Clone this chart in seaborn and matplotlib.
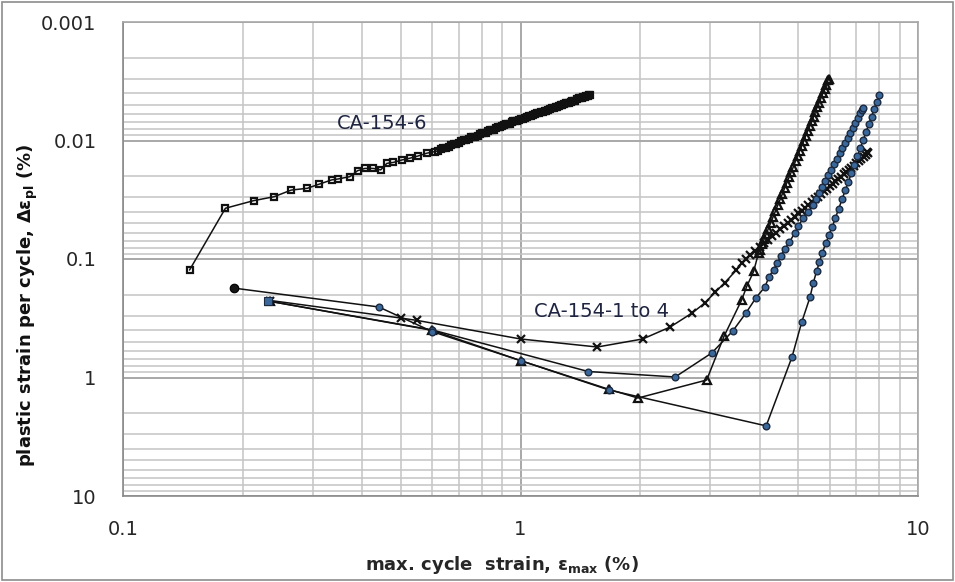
import matplotlib
matplotlib.use("Agg")
import matplotlib.pyplot as plt
from matplotlib.patches import Rectangle
from matplotlib.ticker import LogLocator, FixedLocator, FixedFormatter, NullFormatter
import numpy as np
import pandas as pd
import seaborn as sns

# ---------------- data ----------------
ca6_x = [0.147, 0.181, 0.213, 0.240, 0.265, 0.291, 0.311, 0.335, 0.348, 0.372,
         0.389, 0.406, 0.426, 0.445, 0.461, 0.479, 0.503, 0.527, 0.553, 0.581,
         0.609, 0.62, 0.63, 0.64, 0.65, 0.66, 0.67, 0.68, 0.69, 0.70, 0.71, 0.72, 0.73,
         0.74, 0.75, 0.76, 0.77, 0.78, 0.79, 0.80,
         0.81, 0.82, 0.83, 0.84, 0.85, 0.86, 0.87, 0.88, 0.89, 0.90, 0.91, 0.92, 0.93,
         0.94, 0.95, 0.96, 0.97, 0.98, 0.99, 1.00, 1.0125, 1.025, 1.0375,
         1.05, 1.0625, 1.075, 1.0875, 1.10, 1.1125, 1.125, 1.1375, 1.15, 1.1625, 1.175,
         1.1875, 1.20, 1.2125, 1.225, 1.2375, 1.25, 1.2625, 1.275, 1.2875,
         1.30, 1.3125, 1.325, 1.3375, 1.35, 1.3625, 1.375, 1.3875, 1.40, 1.4125,
         1.425, 1.4375, 1.45, 1.4625, 1.475, 1.485, 1.496]
ca6_y = [0.124, 0.0373, 0.0322, 0.0298, 0.0262, 0.0253, 0.0234, 0.0215, 0.0211, 0.0202,
         0.0180, 0.0172, 0.0172, 0.0177, 0.0156, 0.0153, 0.0146, 0.0141, 0.0135, 0.0128,
         0.0124, 0.0122, 0.0118, 0.0116, 0.0115, 0.0113, 0.0109, 0.0107, 0.0107, 0.0105, 0.0101, 0.0099, 0.0099,
         0.0098, 0.0094, 0.0093, 0.0093, 0.0092, 0.0088, 0.0087,
         0.0087, 0.0086, 0.0083, 0.0082, 0.0082, 0.0081, 0.0078, 0.0077, 0.0077, 0.0076, 0.0074, 0.0073, 0.0073,
         0.0072, 0.0070, 0.0069, 0.0069, 0.0068, 0.0067, 0.0066, 0.0066, 0.0065, 0.0063,
         0.0062, 0.0062, 0.0061, 0.0060, 0.0059, 0.0059, 0.0058, 0.0057, 0.0056, 0.0056, 0.0055,
         0.0054, 0.0053, 0.0053, 0.0052, 0.0052, 0.0051, 0.0050, 0.0050, 0.0049,
         0.0048, 0.0048, 0.0048, 0.0047, 0.0046, 0.0046, 0.0046, 0.0045, 0.0044, 0.0044,
         0.0044, 0.0043, 0.0043, 0.0042, 0.0042, 0.0041, 0.0041]

# CA-154 test 1 (cross markers)
s1_x = [0.235, 0.50, 0.55, 1.00, 1.56, 2.03, 2.38, 2.70, 2.91, 3.09, 3.27, 3.49, 3.60,
        3.70, 3.78, 3.90, 4.00, 4.10, 4.20, 4.30, 4.40, 4.50, 4.60, 4.70, 4.80, 4.90,
        5.00, 5.10, 5.20, 5.30, 5.40, 5.50, 5.60, 5.70, 5.80, 5.90, 6.00, 6.10, 6.20,
        6.30, 6.40, 6.50, 6.60, 6.70, 6.80, 6.90, 7.00, 7.10, 7.20, 7.30, 7.40, 7.48, 7.45]
s1_y = [0.224, 0.315, 0.33, 0.473, 0.553, 0.473, 0.375, 0.286, 0.235, 0.190, 0.158, 0.124, 0.108,
        0.100, 0.092, 0.086, 0.079, 0.0735, 0.0686, 0.064, 0.0599, 0.0561, 0.0526, 0.0495, 0.0466, 0.0438,
        0.0413, 0.039, 0.0369, 0.0349, 0.0331, 0.0313, 0.0298, 0.0283, 0.0269, 0.0256, 0.0243, 0.0232, 0.0221,
        0.0212, 0.0202, 0.0193, 0.0185, 0.0177, 0.0169, 0.0163, 0.0156, 0.0149, 0.0144, 0.0138, 0.0133, 0.0128, 0.0124]

# CA-154 test 2 (triangle markers)
s2_x = [0.235, 0.60, 1.00, 1.67, 1.975, 2.94, 3.25, 3.60, 3.71, 3.86, 3.97, 4.00, 4.05, 4.10,
        4.15, 4.20, 4.26, 4.32, 4.38, 4.44, 4.50, 4.56, 4.62, 4.68, 4.74, 4.80, 4.86, 4.92,
        4.98, 5.04, 5.10, 5.16, 5.22, 5.28, 5.34, 5.40, 5.46, 5.52, 5.58, 5.64, 5.70, 5.76,
        5.82, 5.88, 5.94, 5.97]
s2_y = [0.228, 0.40, 0.72, 1.26, 1.49, 1.05, 0.45, 0.222, 0.170, 0.127, 0.089, 0.0836, 0.0753, 0.0681,
        0.0617, 0.0558, 0.0495, 0.0441, 0.0393, 0.0351, 0.0314, 0.0281, 0.0252, 0.0227, 0.0204, 0.0184, 0.0166, 0.0149,
        0.0135, 0.0122, 0.0111, 0.0101, 0.0091, 0.0083, 0.0076, 0.0069, 0.0063, 0.0057, 0.0052, 0.0048, 0.0044, 0.0040,
        0.0037, 0.0034, 0.0031, 0.0030]

# CA-154 test 3 (blue circles, square start)
s3_x = [0.2316, 0.60, 1.48, 2.45, 3.03, 3.42, 3.69, 3.91, 4.12, 4.22, 4.33, 4.43, 4.52, 4.62,
        4.75, 4.90, 5.00, 5.14, 5.29, 5.45, 5.55, 5.65, 5.75, 5.85, 5.95, 6.05, 6.15, 6.25,
        6.35, 6.45, 6.55, 6.65, 6.75, 6.85, 6.95, 7.05, 7.15, 7.22, 7.27]
s3_y = [0.226, 0.397, 0.89, 0.99, 0.62, 0.405, 0.286, 0.213, 0.172, 0.141, 0.123, 0.108, 0.094, 0.082,
        0.072, 0.060, 0.053, 0.045, 0.040, 0.035, 0.0311, 0.0276, 0.0246, 0.0220, 0.0197, 0.0176, 0.0158, 0.0142,
        0.0128, 0.0116, 0.0105, 0.0095, 0.0086, 0.0078, 0.0071, 0.0065, 0.0059, 0.0055, 0.0053]

# CA-154 test 4 (blue circles, dark start)
s4_x = [0.19, 0.44, 0.60, 1.00, 1.67, 4.15, 4.82, 5.10, 5.35, 5.45, 5.56, 5.65, 5.74, 5.87,
        5.97, 6.08, 6.20, 6.32, 6.44, 6.56, 6.68, 6.80, 6.92, 7.04, 7.16, 7.28, 7.40, 7.52,
        7.64, 7.76, 7.88, 8.00]
s4_y = [0.176, 0.254, 0.41, 0.72, 1.275, 2.56, 0.671, 0.34, 0.21, 0.16, 0.126, 0.106, 0.089, 0.073,
        0.063, 0.054, 0.0449, 0.0375, 0.0314, 0.0264, 0.0223, 0.0189, 0.0160, 0.0136, 0.0116, 0.0099, 0.0085, 0.0073,
        0.0063, 0.0054, 0.0047, 0.0041]

x_ticks = [0.1, 1, 10]
x_ticklabels = ["0.1", "1", "10"]
y_ticks = [0.001, 0.01, 0.1, 1, 10]
y_ticklabels = ["0.001", "0.01", "0.1", "1", "10"]

label_ca6 = "CA-154-6"
label_ca14 = "CA-154-1 to 4"

# ---------------- styling ----------------
sns.set_style("white")
plt.rcParams["font.family"] = ["DejaVu Sans"]
plt.rcParams["mathtext.default"] = "regular"

fig = plt.figure(figsize=(9.55, 5.82), dpi=100)
ax = fig.add_axes([123 / 955, 1 - 496 / 582, (918 - 123) / 955, (496 - 22) / 582])

ax.set_xscale("log")
ax.set_yscale("log")

frames = []
for name, xs, ys in [("ca6", ca6_x, ca6_y), ("s1", s1_x, s1_y), ("s2", s2_x, s2_y),
                     ("s3", s3_x, s3_y), ("s4", s4_x, s4_y)]:
    frames.append(pd.DataFrame({"series": name, "x": xs, "y": ys}))
df = pd.concat(frames, ignore_index=True)

line_kw = dict(color="#111111", lw=1.1, sort=False, estimator=None, ax=ax, legend=False)
blue_face = "#3b689a"
blue_edge = "#1b2a40"

sns.lineplot(data=df[df.series == "ca6"], x="x", y="y", marker="s", markersize=5,
             mfc="none", mec="#111111", mew=1.6, **line_kw)
sns.lineplot(data=df[df.series == "s1"], x="x", y="y", marker="x", markersize=5.5,
             mec="#111111", mew=1.6, **line_kw)
sns.lineplot(data=df[df.series == "s2"], x="x", y="y", marker="^", markersize=5.5,
             mfc="none", mec="#111111", mew=1.6, **line_kw)
sns.lineplot(data=df[df.series == "s3"], x="x", y="y", marker="o", markersize=4.8,
             mfc=blue_face, mec=blue_edge, mew=1.0, **line_kw)
sns.lineplot(data=df[df.series == "s4"], x="x", y="y", marker="o", markersize=4.8,
             mfc=blue_face, mec=blue_edge, mew=1.0, **line_kw)

# start markers
sns.scatterplot(x=[s3_x[0]], y=[s3_y[0]], marker="s", s=30, color=blue_face,
                edgecolor=blue_edge, linewidth=0.8, ax=ax, legend=False, zorder=5)
sns.scatterplot(x=[s4_x[0]], y=[s4_y[0]], marker="o", s=38, color="#151515",
                edgecolor="#000000", linewidth=0.8, ax=ax, legend=False, zorder=5)

ax.set_xlim(0.1, 10)
ax.set_ylim(10, 0.001)

ax.xaxis.set_major_locator(FixedLocator(x_ticks))
ax.xaxis.set_major_formatter(FixedFormatter(x_ticklabels))
ax.yaxis.set_major_locator(FixedLocator(y_ticks))
ax.yaxis.set_major_formatter(FixedFormatter(y_ticklabels))
ax.xaxis.set_minor_locator(LogLocator(base=10, subs=np.arange(2, 10), numticks=20))
ax.yaxis.set_minor_locator(LogLocator(base=10, subs=np.arange(2, 10), numticks=20))
ax.xaxis.set_minor_formatter(NullFormatter())
ax.yaxis.set_minor_formatter(NullFormatter())

ax.grid(True, which="major", color="#a8a8a8", lw=1.4)
ax.grid(True, which="minor", color="#c4c4c4", lw=1.1)
ax.set_axisbelow(True)

ax.tick_params(axis="both", which="major", direction="out", length=7, width=1.0,
               color="#808080", labelsize=14, labelcolor="#262626")
ax.tick_params(axis="both", which="minor", length=0)
ax.tick_params(axis="x", which="major", pad=10)
ax.tick_params(axis="y", which="major", pad=12)

for side in ["left", "bottom"]:
    ax.spines[side].set_color("#8a8a8a")
    ax.spines[side].set_linewidth(1.2)
for side in ["top", "right"]:
    ax.spines[side].set_color("#a8a8a8")
    ax.spines[side].set_linewidth(1.2)

ax.set_xlabel("max. cycle  strain, ε$_{max}$ (%)", fontsize=13, fontweight="bold",
              color="#262626")
ax.set_ylabel("plastic strain per cycle, Δε$_{pl}$ (%)", fontsize=13, fontweight="bold",
              color="#111111")
ax.xaxis.set_label_coords((502 - 123) / 795, -(554 - 496) / 474)
ax.yaxis.set_label_coords(-(123 - 40) / 795, (496 - 305) / 474)

ax.text(0.448, 0.00712, label_ca6, fontsize=14, color="#1f2440", ha="center", va="center")
ax.text(1.60, 0.275, label_ca14, fontsize=14, color="#1f2440", ha="center", va="center")

fig.patches.append(Rectangle((0.002, 0.003), 0.996, 0.994, transform=fig.transFigure,
                             fill=False, edgecolor="#8c8c8c", lw=1.2))

fig.savefig("out.png", dpi=100)
